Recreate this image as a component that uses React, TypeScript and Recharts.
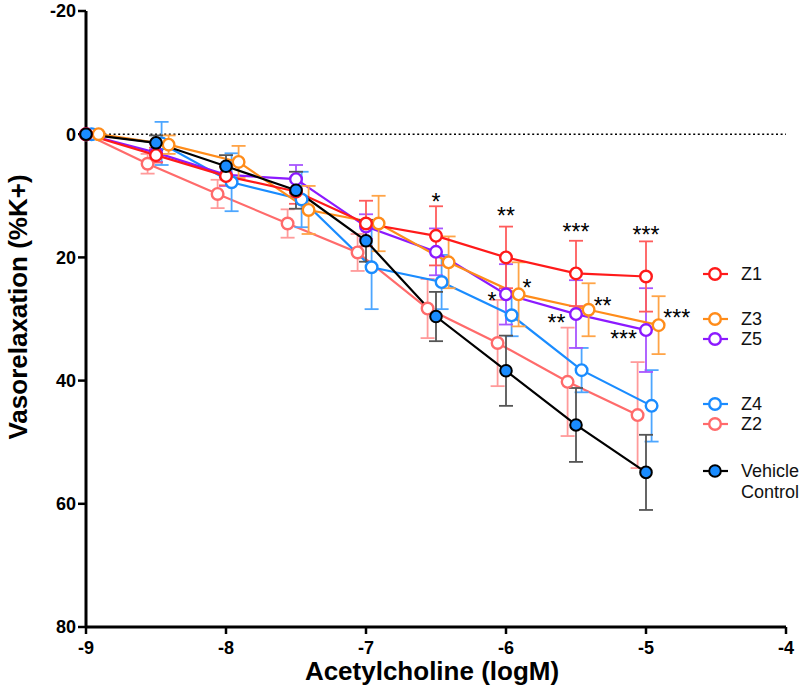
import {
  ComposedChart,
  ErrorBar,
  Label,
  Legend,
  Line,
  ReferenceLine,
  Scatter,
  XAxis,
  YAxis,
} from "recharts";

const FONT = "'Liberation Sans', Arial, Helvetica, sans-serif";

// log molar concentrations of acetylcholine
const doses = [-9, -8.5, -8, -7.5, -7, -6.5, -6, -5.5, -5];

// mean vasorelaxation (% K+) and SEM per group
const z1Mean = [0, 3.4, 6.8, 9.3, 14.5, 16.5, 20.0, 22.6, 23.1];
const z1Sem = [0, 1.2, 1.5, 2.0, 3.7, 4.8, 5.0, 5.3, 5.7];

const z2Mean = [0, 4.8, 9.7, 14.5, 19.2, 28.3, 33.9, 40.2, 45.6];
const z2Sem = [0, 1.6, 2.3, 2.3, 3.0, 4.8, 7.0, 8.8, 8.6];

const z3Mean = [0, 1.7, 4.5, 12.3, 14.5, 20.8, 26.0, 28.5, 31.0];
const z3Sem = [0, 1.5, 2.6, 3.9, 4.5, 4.2, 5.2, 4.3, 4.7];

const z4Mean = [0, 1.5, 7.8, 10.6, 21.6, 24.0, 29.4, 38.3, 44.1];
const z4Sem = [0, 3.5, 4.7, 4.5, 6.8, 4.4, 3.4, 3.6, 5.8];

const z5Mean = [0, 3.0, 6.6, 7.3, 15.0, 19.1, 26.0, 29.2, 31.8];
const z5Sem = [0, 1.5, 1.8, 2.3, 2.0, 3.8, 4.9, 5.5, 6.8];

const vehMean = [0, 1.4, 5.2, 9.1, 17.3, 29.6, 38.4, 47.2, 54.9];
const vehSem = [0, 1.2, 1.8, 3.0, 3.4, 4.0, 5.7, 6.0, 6.1];

const xTicks = [-9, -8, -7, -6, -5, -4];
const yTicks = [-20, 0, 20, 40, 60, 80];

// significance marks: dose position, response level, label
const markX = [-6.5, -6.0, -5.5, -5.0, -6.1, -5.85, -5.31, -5.64, -4.78, -5.16];
const markY = [10.2, 12.4, 15.0, 15.5, 26.2, 24.2, 27.1, 29.9, 29.1, 32.5];
const markText = ["*", "**", "***", "***", "*", "*", "**", "**", "***", "***"];

const build = (mean: number[], sem: number[], nudge: number) =>
  doses.map((d, i) => ({
    x: Math.max(doses[0], d + nudge),
    y: mean[i],
    e: sem[i],
  }));

type Series = {
  name: string;
  data: { x: number; y: number; e: number }[];
  color: string;
  errColor: string;
  filled?: boolean;
};

// drawn bottom to top
const series: Series[] = [
  { name: "Z2", data: build(z2Mean, z2Sem, -0.06), color: "#ff6b6b", errColor: "#ff9a9a" },
  { name: "Z4", data: build(z4Mean, z4Sem, 0.04), color: "#1a8cff", errColor: "#4da6ff" },
  { name: "Z5", data: build(z5Mean, z5Sem, 0), color: "#8c1aff", errColor: "#a855ff" },
  { name: "Z3", data: build(z3Mean, z3Sem, 0.09), color: "#ff8c1a", errColor: "#ffa447" },
  { name: "Z1", data: build(z1Mean, z1Sem, 0), color: "#ff1a1a", errColor: "#ff5c5c" },
  { name: "Vehicle", data: build(vehMean, vehSem, 0), color: "#000000", errColor: "#555555", filled: true },
];

const marks = markX.map((x, i) => ({ x, y: markY[i], t: markText[i] }));

const legendItems = [
  { label: ["Z1"], color: "#ff1a1a", top: 19 },
  { label: ["Z3"], color: "#ff8c1a", top: 64 },
  { label: ["Z5"], color: "#8c1aff", top: 84 },
  { label: ["Z4"], color: "#1a8cff", top: 149 },
  { label: ["Z2"], color: "#ff6b6b", top: 169 },
  { label: ["Vehicle", "Control"], color: "#000000", top: 216, filled: true },
];

const makeDot = (s: Series) => (props: any) => {
  const { cx, cy, index } = props;
  if (cx == null || cy == null) return <g key={`d-${s.name}-${index}`} />;
  return (
    <circle
      key={`d-${s.name}-${index}`}
      cx={cx}
      cy={cy}
      r={5.8}
      fill={s.filled ? "#1a8cff" : "#ffffff"}
      stroke={s.filled ? "#000000" : s.color}
      strokeWidth={s.filled ? 2 : 2.4}
    />
  );
};

const LegendBox = () => (
  <svg width={105} height={250} style={{ overflow: "visible" }}>
    {legendItems.map((it) => (
      <g key={it.label[0]}>
        <line x1={8} x2={33} y1={it.top} y2={it.top} stroke={it.color} strokeWidth={2.2} />
        <circle
          cx={20}
          cy={it.top}
          r={5.8}
          fill={it.filled ? "#1a8cff" : "#ffffff"}
          stroke={it.color}
          strokeWidth={it.filled ? 2 : 2.4}
        />
        {it.label.map((t, k) => (
          <text
            key={t}
            x={46}
            y={it.top + k * 21}
            dominantBaseline="central"
            fontSize={18}
            fontFamily={FONT}
            fill="#111"
          >
            {t}
          </text>
        ))}
      </g>
    ))}
  </svg>
);

const tickFont = { fontSize: 18, fontWeight: 700, fill: "#000", fontFamily: FONT };

export default function App() {
  return (
    <div style={{ position: "absolute", left: 0, top: 0, width: 800, height: 688, background: "#fff" }}>
      <ComposedChart width={800} height={688} margin={{ top: 11, right: 14, bottom: 31, left: 16 }}>
        <XAxis
          type="number"
          dataKey="x"
          domain={[-9, -4]}
          ticks={xTicks}
          interval={0}
          height={30}
          axisLine={{ stroke: "#000", strokeWidth: 3 }}
          tickLine={{ stroke: "#000", strokeWidth: 2.5 }}
          tickSize={7}
          tickMargin={7}
          tick={tickFont}
        >
          <Label
            content={(p: any) => {
              const vb = p.viewBox;
              return (
                <text
                  x={vb.x + vb.width / 2 - 4}
                  y={680}
                  textAnchor="middle"
                  fontSize={26}
                  fontWeight={700}
                  fontFamily={FONT}
                  fill="#000"
                >
                  Acetylcholine (logM)
                </text>
              );
            }}
          />
        </XAxis>
        <YAxis
          type="number"
          dataKey="y"
          reversed
          domain={[-20, 80]}
          ticks={yTicks}
          interval={0}
          allowDataOverflow
          width={70}
          axisLine={{ stroke: "#000", strokeWidth: 3 }}
          tickLine={{ stroke: "#000", strokeWidth: 2.5 }}
          tickSize={8}
          tickMargin={2}
          tick={tickFont}
        >
          <Label
            content={(p: any) => {
              const vb = p.viewBox;
              const cx = 18;
              const cy = vb.y + vb.height / 2 - 12;
              return (
                <text
                  x={cx}
                  y={cy}
                  transform={`rotate(-90 ${cx} ${cy})`}
                  textAnchor="middle"
                  dominantBaseline="central"
                  fontSize={26}
                  fontWeight={700}
                  fontFamily={FONT}
                  fill="#000"
                >
                  Vasorelaxation (%K+)
                </text>
              );
            }}
          />
        </YAxis>
        <ReferenceLine y={0} stroke="#000" strokeWidth={1.6} strokeDasharray="2 2.6" />
        {series.map((s) => (
          <Line
            key={s.name}
            data={s.data}
            dataKey="y"
            type="linear"
            stroke={s.color}
            strokeWidth={2.2}
            dot={makeDot(s)}
            activeDot={false}
            legendType="none"
            isAnimationActive={false}
          >
            <ErrorBar dataKey="e" direction="y" width={7} stroke={s.errColor} strokeWidth={1.8} />
          </Line>
        ))}
        <Scatter
          data={marks}
          dataKey="y"
          legendType="none"
          isAnimationActive={false}
          shape={(p: any) => (
            <text
              x={p.cx}
              y={p.cy + 13}
              textAnchor="middle"
              fontSize={23}
              fontFamily={FONT}
              fill="#000"
            >
              {p.payload.t}
            </text>
          )}
        />
        <Legend
          layout="horizontal"
          verticalAlign="middle"
          content={() => <LegendBox />}
          wrapperStyle={{ left: 695, top: 255, width: 105, height: 250 }}
        />
      </ComposedChart>
    </div>
  );
}
